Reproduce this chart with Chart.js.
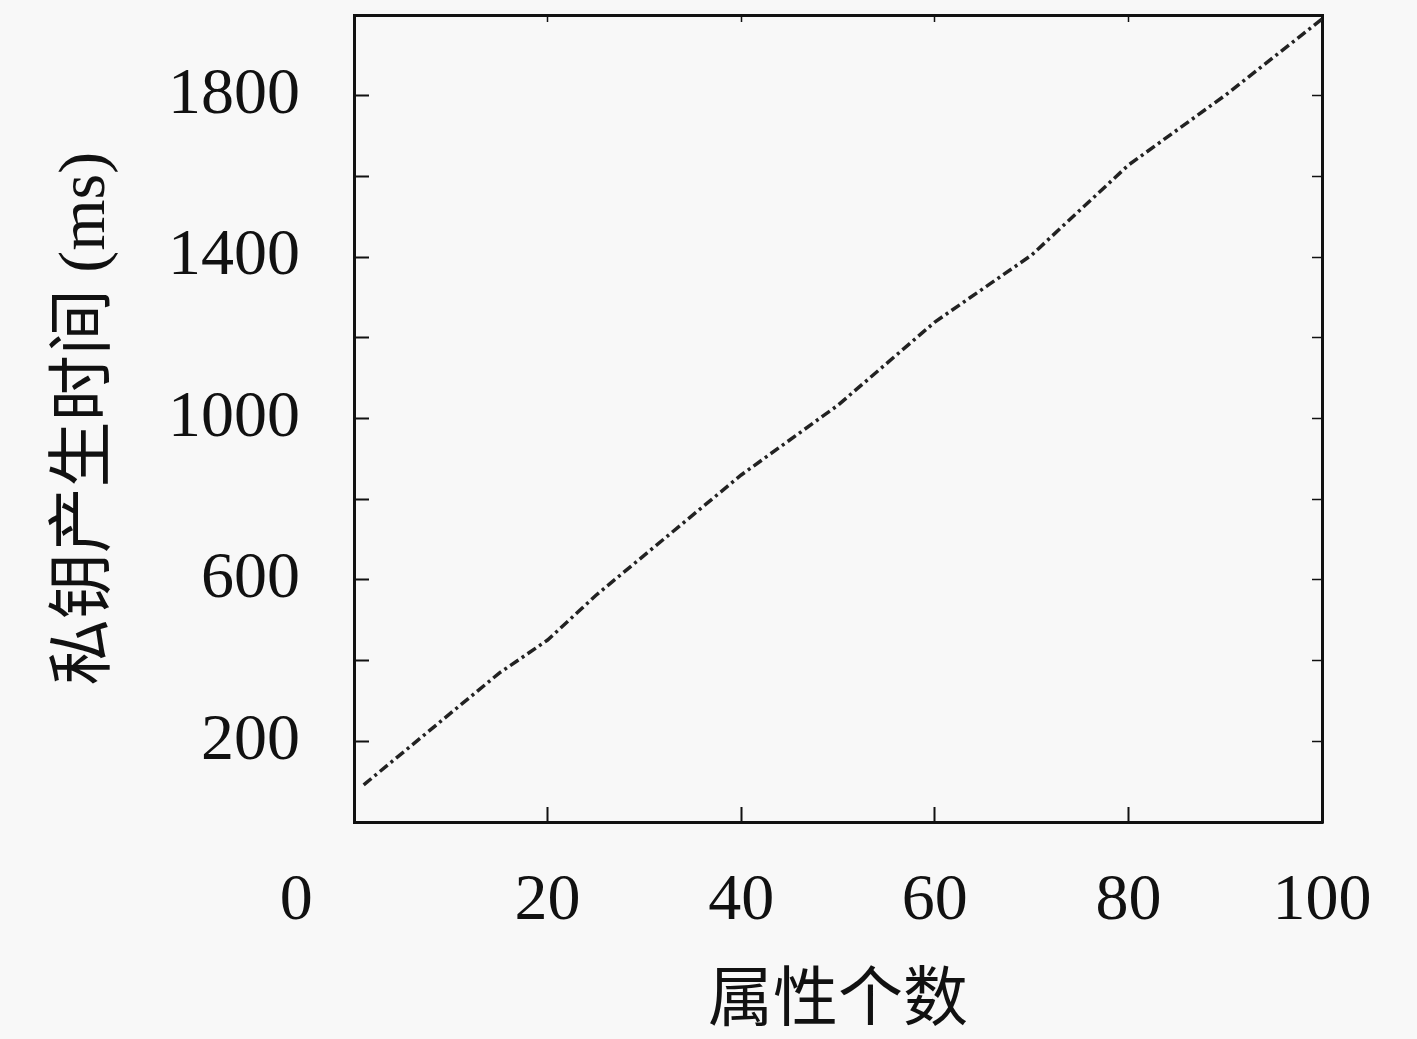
<!DOCTYPE html>
<html>
<head>
<meta charset="utf-8">
<script src="https://cdn.jsdelivr.net/npm/chart.js@4.4.0/dist/chart.umd.min.js"></script>
<style>
    html, body { margin: 0; padding: 0; background: #f8f8f8; }
    #chartContainer { width: 1417px; height: 1039px; position: relative; }
</style>
</head>
<body>
<div id="chartContainer"><canvas id="keyChart"></canvas></div>
<script>
// attribute count vs. private key generation time
const attributeCounts = [1, 15, 20, 25, 40, 50, 60, 70, 80, 90, 100];
const keyGenTimes = [92, 369, 451, 562, 860, 1033, 1239, 1405, 1628, 1801, 1990];

const xTitle = "属性个数";
const yTitle = "私钥产生时间 (ms)";
const yLabelValues = [200, 600, 1000, 1400, 1800];

const serif = "'Liberation Serif', 'DejaVu Serif', serif";
const titleFont = "'Liberation Serif', 'Noto Sans CJK SC', serif";
const ink = "#111";

function fixBox(size, isHorizontal) {
    return scale => {
        if (isHorizontal) {
            scale.height = size;
        } else {
            scale.width = size;
        }
        scale.paddingTop = 0;
        scale.paddingBottom = 0;
        scale.paddingLeft = 0;
        scale.paddingRight = 0;
    };
}

function renderKeyChart() {
    const canvas = document.getElementById("keyChart");
    const points = attributeCounts.map((x, i) => ({ x: x, y: keyGenTimes[i] }));

    const grid = (len, width) => ({
        drawOnChartArea: false,
        tickLength: len,
        tickWidth: width,
        color: ink
    });
    const border = { color: ink, width: 3 };

    new Chart(canvas.getContext("2d"), {
        type: "line",
        data: {
            datasets: [{
                data: points,
                borderColor: "#222",
                borderWidth: 3.5,
                borderDash: [10, 4, 3, 4],
                pointRadius: 0,
                tension: 0,
                fill: false
            }]
        },
        options: {
            responsive: true,
            maintainAspectRatio: false,
            animation: false,
            layout: { padding: 0 },
            plugins: {
                legend: { display: false },
                tooltip: { enabled: false }
            },
            scales: {
                x: {
                    type: "linear",
                    position: "bottom",
                    min: 0,
                    max: 100,
                    border: border,
                    grid: grid(-15, 2),
                    ticks: {
                        stepSize: 20,
                        autoSkip: false,
                        maxRotation: 0,
                        padding: 55,
                        color: ink,
                        font: { family: serif, size: 66 },
                        // the 0 label sits left of the axis in the original
                        callback: v => v === 0 ? "0       " : String(v)
                    },
                    title: {
                        display: true,
                        text: xTitle,
                        color: ink,
                        font: { family: titleFont, size: 65, lineHeight: 1 },
                        padding: { top: 0, bottom: 4 }
                    },
                    afterFit: fixBox(217, true)
                },
                x2: {
                    type: "linear",
                    position: "top",
                    min: 0,
                    max: 100,
                    border: border,
                    grid: grid(-7, 1.5),
                    ticks: { stepSize: 20, callback: () => "" },
                    afterFit: fixBox(15, true)
                },
                y: {
                    position: "left",
                    min: 0,
                    max: 2000,
                    border: border,
                    grid: grid(-15, 2),
                    ticks: {
                        stepSize: 200,
                        autoSkip: false,
                        padding: 69,
                        color: ink,
                        font: { family: serif, size: 66 },
                        callback: v => yLabelValues.includes(v) ? String(v) : ""
                    },
                    title: {
                        display: true,
                        text: yTitle,
                        color: ink,
                        font: { family: titleFont, size: 66, lineHeight: 1 },
                        padding: { top: 54, bottom: 0 }
                    },
                    afterFit: fixBox(354, false)
                },
                y2: {
                    position: "right",
                    min: 0,
                    max: 2000,
                    border: border,
                    grid: grid(-10, 1.5),
                    ticks: { stepSize: 200, autoSkip: false, callback: () => "" },
                    afterFit: fixBox(95, false)
                }
            }
        }
    });
}

renderKeyChart();
</script>
</body>
</html>
